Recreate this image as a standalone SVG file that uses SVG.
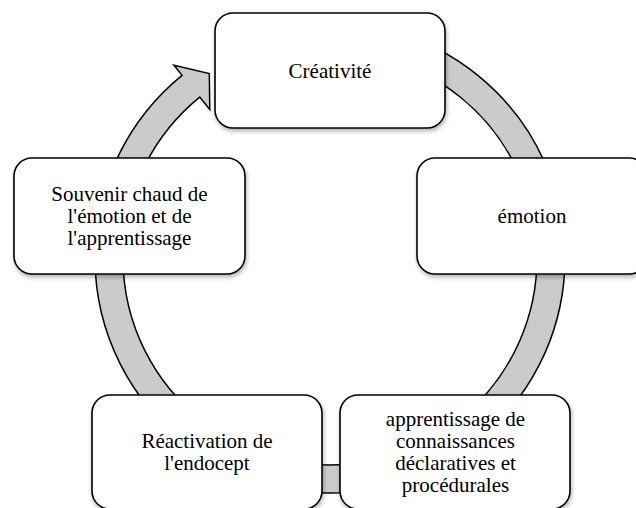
<svg xmlns="http://www.w3.org/2000/svg" width="636" height="508" viewBox="0 0 636 508">
<defs>
<filter id="sh" x="-10%" y="-10%" width="125%" height="130%">
<feDropShadow dx="1" dy="2.5" stdDeviation="2" flood-color="#000" flood-opacity="0.3"/>
</filter>
<style>
.box{fill:#fff;stroke:#000;stroke-width:1.6;filter:url(#sh)}
.band{fill:#cbcbcb;stroke:#000;stroke-width:1.5;stroke-linejoin:miter}
.t{font-family:"Liberation Serif","Times New Roman",serif;font-size:21px;fill:#000;text-anchor:middle}
</style>
</defs>
<rect width="636" height="508" fill="#fff"/>
<g id="connectors">
<path class="band" d="M390.82,31.01 A235,235 0 1 1 182.11,75.37 L173.93,65.27 L209.3,73.5 L209.8,109.57 L199.73,97.13 A207,207 0 1 0 383.58,58.05 Z"/>
</g>
<g id="n1">
<rect class="box" x="215" y="13" width="230" height="115" rx="18"/>
<text class="t" x="330" y="77.5">Créativité</text>
</g>
<g id="n2">
<rect class="box" x="417" y="158" width="230" height="116" rx="18"/>
<text class="t" x="532" y="223">émotion</text>
</g>
<g id="n3">
<rect class="box" x="340" y="395" width="230" height="114" rx="18"/>
<text class="t" x="455.5" y="426">apprentissage de</text>
<text class="t" x="455.5" y="448">connaissances</text>
<text class="t" x="455.5" y="470">déclaratives et</text>
<text class="t" x="455.5" y="492">procédurales</text>
</g>
<g id="n4">
<rect class="box" x="92" y="395" width="230" height="114" rx="18"/>
<text class="t" x="207" y="448">Réactivation de</text>
<text class="t" x="207" y="470">l'endocept</text>
</g>
<g id="n5">
<rect class="box" x="14" y="158" width="231" height="116" rx="18"/>
<text class="t" x="129.5" y="201">Souvenir chaud de</text>
<text class="t" x="129.5" y="223">l'émotion et de</text>
<text class="t" x="129.5" y="245">l'apprentissage</text>
</g>
</svg>
